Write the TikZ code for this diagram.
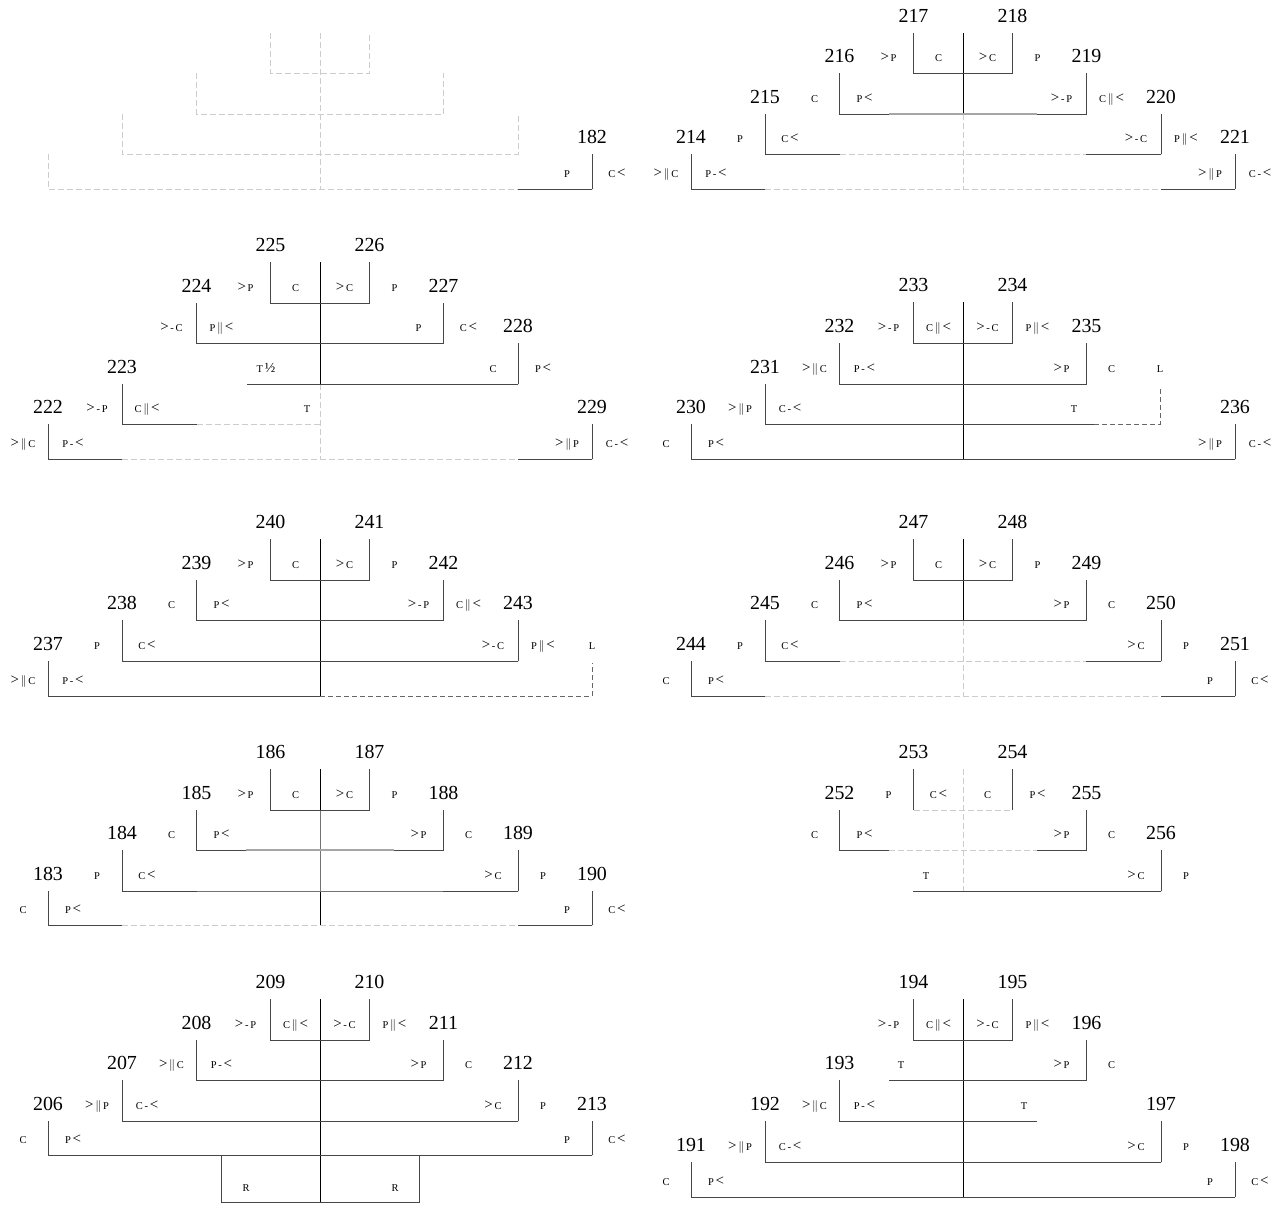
\documentclass[tikz,border=0pt]{standalone}
\usepackage{fontspec}
\setmainfont{Liberation Serif}
\tikzset{
  link/.style={draw=black!72, line width=0.9bp, line cap=rect},
  spine/.style={draw=black, line width=0.9bp},
  ghost/.style={draw=black!20, line width=1bp, dash pattern=on 6bp off 3bp},
  faded/.style={draw=black!35, line width=1.4bp},
  greyln/.style={draw=black!55, line width=0.9bp},
  lost/.style={draw=black!60, line width=1bp, dash pattern=on 5bp off 3bp},
  num/.style={font=\fontsize{20}{20}\selectfont, inner sep=0pt, anchor=base},
  lab/.style={font=\fontsize{10.5}{11}\selectfont, inner sep=0pt, anchor=base},
}
\newcommand{\Gt}{{\fontsize{15}{15}\selectfont>}}
\newcommand{\Lt}{{\fontsize{15}{15}\selectfont<}}
\newcommand{\Pa}{{\fontsize{12.5}{12.5}\selectfont\ensuremath{\Vert}}}
\newcommand{\Half}{{\fontsize{14}{14}\selectfont ½}}
% one descent line: x, top, bottom, number, left and right marks
\newcommand{\stem}[6]{%
  \draw[link] (#1,#2) -- (#1,#3);
  \node[num] (n#4) at (#1,#2-11) {#4};
  \node[lab] (n#4l) at (#1-25,#3-12) {#5};
  \node[lab] (n#4r) at (#1+25,#3-12) {#6};
}
% bottom bar with solid ends: y, outer x, inner x, style of the middle
\newcommand{\gapbar}[4]{%
  \draw[#4] (-#3,#1) -- (#3,#1);
  \draw[link] (-#2,#1) -- (-#3,#1);
  \draw[link] (#3,#1) -- (#2,#1);
}
\begin{document}
\begin{tikzpicture}[x=1bp, y=-1bp]
\useasboundingbox (0,0) rectangle (1288,1207);

% row 1, left
\begin{scope}[shift={(320,0)}]
\draw[ghost] (-49.5,33) |- (49.5,73) -- (49.5,33);
\draw[ghost] (-123.5,73) |- (123.5,114) -- (123.5,73);
\draw[ghost] (-198,114) |- (198,154) -- (198,114);
\draw[ghost] (-272,154) |- (198,189);
\draw[ghost] (0,33) -- (0,189);
\draw[link] (198,189) -- (272,189);
\stem{272}{154}{189}{182}{P}{C\,\Lt}
\end{scope}

% row 1, right
\begin{scope}[shift={(963,0)}]
\draw[spine] (0,33) -- (0,114);
\draw[ghost] (0,114) -- (0,189);
\draw[link] (-49.5,73) -- (49.5,73);
\stem{-49.5}{33}{73}{217}{\Gt\,P}{C}
\stem{49.5}{33}{73}{218}{\Gt\,C}{P}
\gapbar{114}{123.5}{74}{faded}
\stem{-123.5}{73}{114}{216}{C}{P\,\Lt}
\stem{123.5}{73}{114}{219}{\Gt\,-\,P}{C\,\Pa\,\Lt}
\gapbar{154}{198}{123.5}{ghost}
\stem{-198}{114}{154}{215}{P}{C\,\Lt}
\stem{198}{114}{154}{220}{\Gt\,-\,C}{P\,\Pa\,\Lt}
\gapbar{189}{272}{198}{ghost}
\stem{-272}{154}{189}{214}{\Gt\,\Pa\,C}{P\,-\,\Lt}
\stem{272}{154}{189}{221}{\Gt\,\Pa\,P}{C\,-\,\Lt}
\end{scope}

% row 2, left
\begin{scope}[shift={(320,0)}]
\draw[spine] (0,262) -- (0,384);
\draw[ghost] (0,384) -- (0,459);
\draw[link] (-49.5,303) -- (49.5,303);
\stem{-49.5}{262}{303}{225}{\Gt\,P}{C}
\stem{49.5}{262}{303}{226}{\Gt\,C}{P}
\draw[link] (-123.5,343) -- (123.5,343);
\stem{-123.5}{303}{343}{224}{\Gt\,-\,C}{P\,\Pa\,\Lt}
\stem{123.5}{303}{343}{227}{P}{C\,\Lt}
\draw[link] (-73,384) -- (198,384);
\stem{198}{343}{384}{228}{C}{P\,\Lt}
\node[lab] (t228) at (-54,372) {T\,\Half};
\draw[ghost] (-123.5,424) -- (0,424);
\draw[link] (-198,424) -- (-123.5,424);
\stem{-198}{384}{424}{223}{\Gt\,-\,P}{C\,\Pa\,\Lt}
\node[lab] (t223) at (-13,412) {T};
\gapbar{459}{272}{198}{ghost}
\stem{-272}{424}{459}{222}{\Gt\,\Pa\,C}{P\,-\,\Lt}
\stem{272}{424}{459}{229}{\Gt\,\Pa\,P}{C\,-\,\Lt}
\end{scope}

% row 2, right
\begin{scope}[shift={(963,0)}]
\draw[spine] (0,302) -- (0,459);
\draw[link] (-49.5,343) -- (49.5,343);
\stem{-49.5}{302}{343}{233}{\Gt\,-\,P}{C\,\Pa\,\Lt}
\stem{49.5}{302}{343}{234}{\Gt\,-\,C}{P\,\Pa\,\Lt}
\draw[link] (-123.5,384) -- (123.5,384);
\stem{-123.5}{343}{384}{232}{\Gt\,\Pa\,C}{P\,-\,\Lt}
\stem{123.5}{343}{384}{235}{\Gt\,P}{C}
\node[lab] (l235) at (197,372) {L};
\draw[link] (-198,424) -- (131,424);
\draw[lost] (131,424) -- (197,424) -- (197,386);
\stem{-198}{384}{424}{231}{\Gt\,\Pa\,P}{C\,-\,\Lt}
\node[lab] (t231) at (111,412) {T};
\draw[link] (-272,459) -- (272,459);
\stem{-272}{424}{459}{230}{C}{P\,\Lt}
\stem{272}{424}{459}{236}{\Gt\,\Pa\,P}{C\,-\,\Lt}
\end{scope}

% row 3, left
\begin{scope}[shift={(320,0)}]
\draw[spine] (0,539) -- (0,696);
\draw[link] (-49.5,580) -- (49.5,580);
\stem{-49.5}{539}{580}{240}{\Gt\,P}{C}
\stem{49.5}{539}{580}{241}{\Gt\,C}{P}
\draw[link] (-123.5,620) -- (123.5,620);
\stem{-123.5}{580}{620}{239}{C}{P\,\Lt}
\stem{123.5}{580}{620}{242}{\Gt\,-\,P}{C\,\Pa\,\Lt}
\draw[link] (-198,661) -- (198,661);
\stem{-198}{620}{661}{238}{P}{C\,\Lt}
\stem{198}{620}{661}{243}{\Gt\,-\,C}{P\,\Pa\,\Lt}
\node[lab] (l243) at (272,649) {L};
\draw[link] (-272,696) -- (0,696);
\draw[lost] (0,696) -- (272,696) -- (272,663);
\stem{-272}{661}{696}{237}{\Gt\,\Pa\,C}{P\,-\,\Lt}
\end{scope}

% row 3, right
\begin{scope}[shift={(963,0)}]
\draw[spine] (0,539) -- (0,620);
\draw[ghost] (0,620) -- (0,696);
\draw[link] (-49.5,580) -- (49.5,580);
\stem{-49.5}{539}{580}{247}{\Gt\,P}{C}
\stem{49.5}{539}{580}{248}{\Gt\,C}{P}
\draw[link] (-123.5,620) -- (123.5,620);
\stem{-123.5}{580}{620}{246}{C}{P\,\Lt}
\stem{123.5}{580}{620}{249}{\Gt\,P}{C}
\gapbar{661}{198}{123.5}{ghost}
\stem{-198}{620}{661}{245}{P}{C\,\Lt}
\stem{198}{620}{661}{250}{\Gt\,C}{P}
\gapbar{696}{272}{198}{ghost}
\stem{-272}{661}{696}{244}{C}{P\,\Lt}
\stem{272}{661}{696}{251}{P}{C\,\Lt}
\end{scope}

% row 4, left
\begin{scope}[shift={(320,0)}]
\draw[spine] (0,769) -- (0,810);
\draw[greyln] (0,810) -- (0,891);
\draw[spine] (0,891) -- (0,925);
\draw[link] (-49.5,810) -- (49.5,810);
\stem{-49.5}{769}{810}{186}{\Gt\,P}{C}
\stem{49.5}{769}{810}{187}{\Gt\,C}{P}
\gapbar{850}{123.5}{74}{faded}
\stem{-123.5}{810}{850}{185}{C}{P\,\Lt}
\stem{123.5}{810}{850}{188}{\Gt\,P}{C}
\gapbar{891}{198}{123.5}{greyln}
\stem{-198}{850}{891}{184}{P}{C\,\Lt}
\stem{198}{850}{891}{189}{\Gt\,C}{P}
\gapbar{925}{272}{198}{ghost}
\stem{-272}{891}{925}{183}{C}{P\,\Lt}
\stem{272}{891}{925}{190}{P}{C\,\Lt}
\end{scope}

% row 4, right
\begin{scope}[shift={(963,0)}]
\draw[ghost] (0,769) -- (0,891);
\draw[ghost] (-49.5,810) -- (49.5,810);
\stem{-49.5}{769}{810}{253}{P}{C\,\Lt}
\stem{49.5}{769}{810}{254}{C}{P\,\Lt}
\gapbar{850}{123.5}{74}{ghost}
\stem{-123.5}{810}{850}{252}{C}{P\,\Lt}
\stem{123.5}{810}{850}{255}{\Gt\,P}{C}
\draw[link] (-49.5,891) -- (198,891);
\stem{198}{850}{891}{256}{\Gt\,C}{P}
\node[lab] (t256) at (-37,879) {T};
\end{scope}

% row 5, left
\begin{scope}[shift={(320,0)}]
\draw[spine] (0,999) -- (0,1202);
\draw[link] (-49.5,1040) -- (49.5,1040);
\stem{-49.5}{999}{1040}{209}{\Gt\,-\,P}{C\,\Pa\,\Lt}
\stem{49.5}{999}{1040}{210}{\Gt\,-\,C}{P\,\Pa\,\Lt}
\draw[link] (-123.5,1080) -- (123.5,1080);
\stem{-123.5}{1040}{1080}{208}{\Gt\,\Pa\,C}{P\,-\,\Lt}
\stem{123.5}{1040}{1080}{211}{\Gt\,P}{C}
\draw[link] (-198,1121) -- (198,1121);
\stem{-198}{1080}{1121}{207}{\Gt\,\Pa\,P}{C\,-\,\Lt}
\stem{198}{1080}{1121}{212}{\Gt\,C}{P}
\draw[link] (-272,1155) -- (272,1155);
\stem{-272}{1121}{1155}{206}{C}{P\,\Lt}
\stem{272}{1121}{1155}{213}{P}{C\,\Lt}
\draw[link] (-99,1155) |- (99,1202) -- (99,1155);
\node[lab] (r206) at (-74,1191) {R};
\node[lab] (r213) at (75,1191) {R};
\end{scope}

% row 5, right
\begin{scope}[shift={(963,0)}]
\draw[spine] (0,999) -- (0,1197);
\draw[link] (-49.5,1040) -- (49.5,1040);
\stem{-49.5}{999}{1040}{194}{\Gt\,-\,P}{C\,\Pa\,\Lt}
\stem{49.5}{999}{1040}{195}{\Gt\,-\,C}{P\,\Pa\,\Lt}
\draw[link] (-74,1080) -- (123.5,1080);
\stem{123.5}{1040}{1080}{196}{\Gt\,P}{C}
\node[lab] (t196) at (-62,1068) {T};
\draw[link] (-123.5,1121) -- (74,1121);
\stem{-123.5}{1080}{1121}{193}{\Gt\,\Pa\,C}{P\,-\,\Lt}
\node[lab] (t193) at (61,1109) {T};
\draw[link] (-198,1162) -- (198,1162);
\stem{-198}{1121}{1162}{192}{\Gt\,\Pa\,P}{C\,-\,\Lt}
\stem{198}{1121}{1162}{197}{\Gt\,C}{P}
\draw[link] (-272,1197) -- (272,1197);
\stem{-272}{1162}{1197}{191}{C}{P\,\Lt}
\stem{272}{1162}{1197}{198}{P}{C\,\Lt}
\end{scope}
\end{tikzpicture}
\end{document}
